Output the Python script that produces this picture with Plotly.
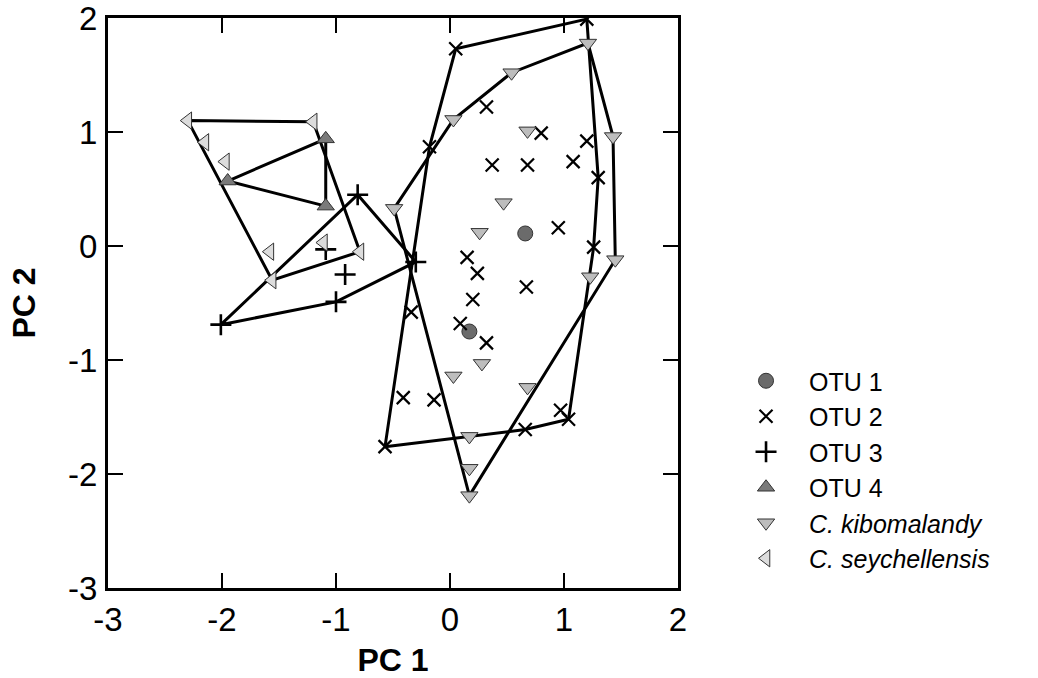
import plotly.graph_objects as go

# ---- data ----
otu1_x = [0.66, 0.17]
otu1_y = [0.11, -0.75]

otu2_x = [1.20, 0.05, 0.32, 0.80, 1.20, -0.18, 0.37, 0.68, 1.08, 1.30, 0.95, 1.26, 0.15,
          0.24, 0.67, 0.20, -0.34, 0.09, 0.32, -0.41, -0.14, 0.97, 1.04, 0.66, -0.57]
otu2_y = [1.99, 1.73, 1.22, 0.99, 0.92, 0.87, 0.71, 0.71, 0.74, 0.60, 0.16, -0.01, -0.10,
          -0.24, -0.36, -0.47, -0.58, -0.68, -0.85, -1.33, -1.35, -1.44, -1.52, -1.61, -1.76]

otu3_x = [-0.81, -0.30, -1.00, -2.01, -0.92, -1.09]
otu3_y = [0.45, -0.14, -0.49, -0.69, -0.25, -0.03]

otu4_x = [-1.09, -1.95, -1.09]
otu4_y = [0.94, 0.57, 0.35]

kib_x = [1.21, 0.54, 0.03, 0.68, 1.43, -0.49, 0.47, 0.26, 1.45, 1.23, 0.28, 0.03, 0.68,
         0.17, 0.17, 0.17]
kib_y = [1.78, 1.52, 1.11, 1.01, 0.96, 0.33, 0.38, 0.12, -0.12, -0.27, -1.03, -1.14, -1.24,
         -1.67, -1.95, -2.19]

sey_x = [-2.30, -1.20, -2.15, -1.97, -1.58, -1.56, -0.79, -1.11]
sey_y = [1.10, 1.09, 0.91, 0.74, -0.05, -0.30, -0.05, 0.03]

tick_vals = [-3, -2, -1, 0, 1, 2]
tick_text = ["-3", "-2", "-1", "0", "1", "2"]


def hull(xs, ys):
    pts = sorted(set(zip(xs, ys)))
    if len(pts) < 3:
        return [], []

    def cross(o, a, b):
        return (a[0] - o[0]) * (b[1] - o[1]) - (a[1] - o[1]) * (b[0] - o[0])

    lower, upper = [], []
    for p in pts:
        while len(lower) >= 2 and cross(lower[-2], lower[-1], p) <= 0:
            lower.pop()
        lower.append(p)
    for p in reversed(pts):
        while len(upper) >= 2 and cross(upper[-2], upper[-1], p) <= 0:
            upper.pop()
        upper.append(p)
    h = lower[:-1] + upper[:-1]
    h.append(h[0])
    return [p[0] for p in h], [p[1] for p in h]


FONT = "Arial, Liberation Sans, sans-serif"
fig = go.Figure()

# hull outlines
for xs, ys in [(otu2_x, otu2_y), (otu3_x, otu3_y), (otu4_x, otu4_y),
               (kib_x, kib_y), (sey_x, sey_y)]:
    hx, hy = hull(xs, ys)
    fig.add_trace(go.Scatter(x=hx, y=hy, mode="lines", showlegend=False,
                             hoverinfo="skip", line=dict(color="black", width=3)))

edge = dict(color="#333333", width=1)
fig.add_trace(go.Scatter(x=otu1_x, y=otu1_y, mode="markers", name="OTU 1",
                         marker=dict(symbol="circle", size=15, color="#6b6b6b", line=edge)))
fig.add_trace(go.Scatter(x=otu2_x, y=otu2_y, mode="markers", name="OTU 2",
                         marker=dict(symbol="x-thin-open", size=13, color="black",
                                     line=dict(color="black", width=2.2))))
fig.add_trace(go.Scatter(x=otu3_x, y=otu3_y, mode="markers", name="OTU 3",
                         marker=dict(symbol="cross-thin-open", size=15, color="black",
                                     line=dict(color="black", width=2.6))))
fig.add_trace(go.Scatter(x=otu4_x, y=otu4_y, mode="markers", name="OTU 4",
                         marker=dict(symbol="triangle-up", size=15, color="#7a7a7a", line=edge)))
fig.add_trace(go.Scatter(x=kib_x, y=kib_y, mode="markers", name="<i>C. kibomalandy</i>",
                         marker=dict(symbol="triangle-down", size=15, color="#bdbdbd", line=edge)))
fig.add_trace(go.Scatter(x=sey_x, y=sey_y, mode="markers", name="<i>C. seychellensis</i>",
                         marker=dict(symbol="triangle-left", size=15, color="#dcdcdc", line=edge)))

axis_common = dict(
    range=[-3, 2], tickvals=tick_vals, ticktext=tick_text, ticks="inside", ticklen=15,
    tickwidth=2, tickcolor="black", showline=True, linecolor="black", linewidth=3,
    mirror="ticks", showgrid=False, zeroline=False, automargin=False,
    ticklabeloverflow="allow",
    tickfont=dict(family=FONT, size=33, color="black"),
)
fig.update_xaxes(**axis_common, ticklabelstandoff=0,
                 title=dict(text="<b>PC 1</b>", font=dict(family=FONT, size=32, color="black"),
                            standoff=17))
fig.update_yaxes(**axis_common, ticklabelstandoff=1,
                 title=dict(text="<b>PC 2</b>", font=dict(family=FONT, size=32, color="black"),
                            standoff=23))

fig.update_layout(
    width=1038, height=678,
    margin=dict(l=108, r=360, t=18, b=90),
    plot_bgcolor="white", paper_bgcolor="white",
    legend=dict(x=1.079, y=0.4035, xanchor="left", yanchor="top",
                font=dict(family=FONT, size=25, color="black"),
                itemwidth=76, tracegroupgap=0, bgcolor="rgba(0,0,0,0)"),
)

# remove the default 8px page margin so the figure fills the window exactly
fig.write_html("out.html", config={"displayModeBar": False},
               post_script="document.body.style.margin='0';")
